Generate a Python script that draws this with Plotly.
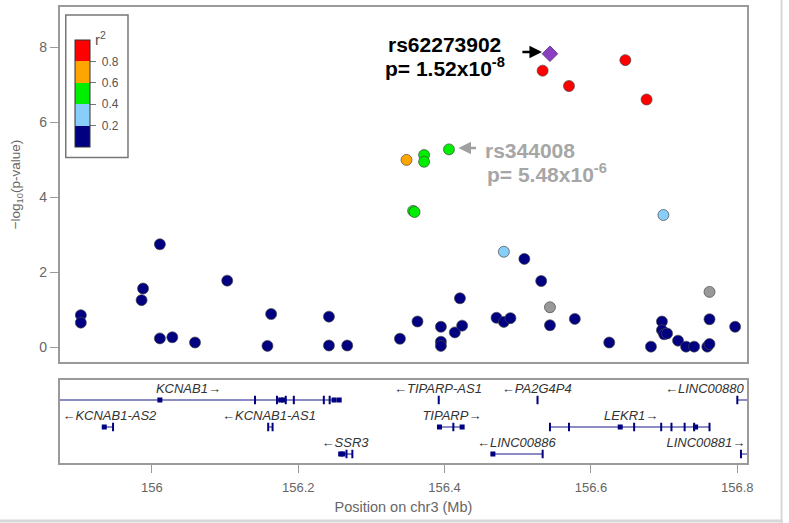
import plotly.graph_objects as go

# ---------------- association data (position Mb, -log10 p) ----------------
navy_x = [155.903, 155.903, 155.988, 155.986, 156.011, 156.011, 156.028, 156.059, 156.103,
          156.158, 156.163, 156.242, 156.242, 156.267, 156.339, 156.363, 156.395, 156.395,
          156.395, 156.414, 156.421, 156.424, 156.471, 156.481, 156.490, 156.509, 156.532,
          156.544, 156.578, 156.625, 156.682, 156.697, 156.697, 156.700, 156.704, 156.719,
          156.730, 156.741, 156.759, 156.762, 156.762, 156.797]
navy_y = [0.85, 0.65, 1.56, 1.25, 2.74, 0.23, 0.26, 0.12, 1.77,
          0.03, 0.88, 0.81, 0.04, 0.04, 0.22, 0.68, 0.54, 0.14,
          0.03, 0.39, 1.30, 0.57, 0.78, 0.67, 0.77, 2.35, 1.76,
          0.58, 0.75, 0.12, 0.01, 0.68, 0.45, 0.34, 0.36, 0.17,
          0.01, 0.01, 0.01, 0.08, 0.74, 0.54]
lblue_x = [156.481, 156.699]
lblue_y = [2.54, 3.52]
green_x = [156.357, 156.359, 156.372, 156.372, 156.406]
green_y = [3.63, 3.60, 5.12, 4.94, 5.27]
orange_x = [156.348]
orange_y = [4.99]
red_x = [156.534, 156.570, 156.647, 156.676]
red_y = [7.37, 6.96, 7.65, 6.60]
grey_x = [156.544, 156.762]
grey_y = [1.06, 1.47]
lead_x = [156.544]
lead_y = [7.82]

# ---------------- gene track ----------------
gene_names = ["KCNAB1", "TIPARP-AS1", "PA2G4P4", "LINC00880",
              "KCNAB1-AS2", "KCNAB1-AS1", "TIPARP", "LEKR1",
              "SSR3", "LINC00886", "LINC00881"]
gene_labels = ["KCNAB1\u2192", "\u2190TIPARP-AS1", "\u2190PA2G4P4", "\u2190LINC00880",
               "\u2190KCNAB1-AS2", "\u2190KCNAB1-AS1", "TIPARP\u2192", "LEKR1\u2192",
               "\u2190SSR3", "\u2190LINC00886", "LINC00881\u2192"]
gene_start = [155.838, 156.391, 156.526, 156.800, 155.935, 156.159, 156.393, 156.544,
              156.258, 156.466, 156.805]
gene_end = [156.256, 156.393, 156.528, 156.830, 155.947, 156.165, 156.424, 156.762,
            156.274, 156.534, 156.830]
gene_row = [1, 1, 1, 1, 2, 2, 2, 2, 3, 3, 3]
label_x = [156.050, 156.391, 156.526, 156.755, 155.942, 156.160, 156.410, 156.655,
           156.264, 156.498, 156.757]

exon_thick_x = [156.011, 156.176, 156.180, 156.249, 156.256, 155.935, 156.393, 156.424,
                156.640, 156.743, 156.258, 156.261, 156.466]
exon_thick_row = [1, 1, 1, 1, 1, 2, 2, 2, 2, 2, 3, 3, 3]
exon_thin_x = [156.141, 156.171, 156.183, 156.194, 156.235, 156.243, 156.392, 156.527, 156.800,
               155.947, 156.159, 156.165, 156.412, 156.544, 156.570, 156.659, 156.696,
               156.710, 156.728, 156.741, 156.762, 156.266, 156.274, 156.534, 156.805]
exon_thin_row = [1, 1, 1, 1, 1, 1, 1, 1, 1,
                 2, 2, 2, 2, 2, 2, 2, 2,
                 2, 2, 2, 2, 3, 3, 3, 3]

x_ticks = [156, 156.2, 156.4, 156.6, 156.8]
x_ticktext = ["156", "156.2", "156.4", "156.6", "156.8"]
y_ticks = [0, 2, 4, 6, 8]
r2_ticks = [0.2, 0.4, 0.6, 0.8]

# ---------------- styling ----------------
NAVY = "#000080"
LBLUE = "#87CEFA"
GREEN = "#00EE00"
ORANGE = "#FFA500"
RED = "#FF0000"
GREY = "#999999"
PURPLE = "#8A3FC0"
GENE = "#1a1a8c"
FONT = "Liberation Sans, Arial, sans-serif"
AX = "#9a9a9a"
TXT = "#555555"

W, H = 789, 523
xrange_ = [155.8739, 156.8136]

fig = go.Figure()

def pts(x, y, color, name):
    fig.add_trace(go.Scatter(x=x, y=y, mode="markers", name=name, showlegend=False,
                             marker=dict(size=11, color=color,
                                         line=dict(width=0.8, color="rgba(70,70,70,0.85)")),
                             xaxis="x", yaxis="y", hoverinfo="x+y"))

pts(navy_x, navy_y, NAVY, "r2<0.2")
pts(grey_x, grey_y, GREY, "NA")
pts(lblue_x, lblue_y, LBLUE, "0.2-0.4")
pts(orange_x, orange_y, ORANGE, "0.6-0.8")
pts(green_x, green_y, GREEN, "0.4-0.6")
pts(red_x, red_y, RED, "0.8-1")
fig.add_trace(go.Scatter(x=lead_x, y=lead_y, mode="markers", showlegend=False,
                         marker=dict(symbol="diamond", size=12, color=PURPLE,
                                     line=dict(width=0.8, color="#5a2a80")),
                         xaxis="x", yaxis="y"))

# colour scale legend (r^2)
cs = [[0, NAVY], [0.2, NAVY], [0.2, LBLUE], [0.4, LBLUE], [0.4, GREEN], [0.6, GREEN],
      [0.6, ORANGE], [0.8, ORANGE], [0.8, RED], [1, RED]]
fig.add_trace(go.Scatter(x=[None], y=[None], mode="markers", showlegend=False,
                         xaxis="x", yaxis="y",
                         marker=dict(color=[0.5], colorscale=cs, cmin=0, cmax=1, showscale=True,
                                     colorbar=dict(
                                         x=68 / W, xanchor="left", xref="paper",
                                         y=1 - 85 / H, yanchor="middle", yref="paper",
                                         lenmode="pixels", len=140, thickness=15,
                                         xpad=8, ypad=8,
                                         tickvals=r2_ticks,
                                         ticktext=["&nbsp;" + str(v) for v in r2_ticks],
                                         ticks="outside", ticklen=6, tickcolor="#777",
                                         tickfont=dict(size=12, color=TXT, family=FONT),
                                         title=dict(text="&nbsp;", side="top",
                                                    font=dict(size=11, color=TXT, family=FONT)),
                                         outlinecolor="#333", outlinewidth=1,
                                         bordercolor="#777", borderwidth=1.5,
                                         bgcolor="white"))))

# gene lines
for s, e, r in zip(gene_start, gene_end, gene_row):
    fig.add_trace(go.Scatter(x=[s, e], y=[r, r], mode="lines", showlegend=False,
                             line=dict(color=GENE, width=1.2), xaxis="x2", yaxis="y2",
                             hoverinfo="skip"))
fig.add_trace(go.Scatter(x=exon_thick_x, y=exon_thick_row, mode="markers", showlegend=False,
                         marker=dict(symbol="square", size=5, color=NAVY, line=dict(width=0)),
                         xaxis="x2", yaxis="y2", hoverinfo="skip"))
fig.add_trace(go.Scatter(x=exon_thin_x, y=exon_thin_row, mode="markers", showlegend=False,
                         marker=dict(symbol="line-ns", size=6, line=dict(width=2, color=NAVY)),
                         xaxis="x2", yaxis="y2", hoverinfo="skip"))
fig.add_trace(go.Scatter(x=label_x, y=[r - 0.37 for r in gene_row], mode="text",
                         text=gene_labels, showlegend=False,
                         textfont=dict(size=13, color="#333333", family=FONT, style="italic"),
                         xaxis="x2", yaxis="y2", hoverinfo="skip"))

# annotations
ann = [
    dict(x=156.400, y=8.06, text="<b>rs62273902</b>", font=dict(size=21, color="black")),
    dict(x=156.400, y=7.47, text="<b>p= 1.52x10<sup>-8</sup></b>", font=dict(size=21, color="black")),
    dict(x=156.453, y=5.25, text="<b>rs344008</b>", xanchor="left",
         font=dict(size=21, color="#a6a6a6")),
    dict(x=156.455, y=4.64, text="<b>p= 5.48x10<sup>-6</sup></b>", xanchor="left",
         font=dict(size=21, color="#a6a6a6")),
]
annotations = []
for a in ann:
    d = dict(xref="x", yref="y", showarrow=False, font=dict(family=FONT, **a.pop("font")))
    d.update(a)
    annotations.append(d)
annotations.append(dict(xref="x", yref="y", x=156.533, y=7.87, ax=-21, ay=0, text="",
                        showarrow=True, arrowhead=2, arrowsize=1, arrowwidth=2.5,
                        arrowcolor="black"))
annotations.append(dict(xref="x", yref="y", x=156.419, y=5.31, ax=19, ay=0, text="",
                        showarrow=True, arrowhead=2, arrowsize=1, arrowwidth=2.5,
                        arrowcolor="#a0a0a0"))
# r^2 legend title
annotations.append(dict(xref="paper", yref="paper", x=94 / W, y=1 - 27 / H, showarrow=False,
                        text="r<sup>2</sup>", font=dict(size=15, color=TXT, family=FONT)))

fig.update_layout(
    width=W, height=H, margin=dict(l=0, r=0, t=0, b=0),
    paper_bgcolor="white", plot_bgcolor="white",
    font=dict(family=FONT, color=TXT),
    annotations=annotations,
    xaxis=dict(domain=[60 / W, 753 / W], range=xrange_, showgrid=False, zeroline=False,
               showticklabels=False, ticks="", showline=True, mirror=True,
               linecolor=AX, linewidth=1.5, anchor="y"),
    yaxis=dict(domain=[1 - 362 / H, 1 - 7 / H], range=[-0.4, 9.067], showgrid=False,
               zeroline=False, tickvals=y_ticks, ticks="outside", ticklen=8, tickcolor=AX,
               tickwidth=1.2, tickfont=dict(size=14, color="#666"),
               showline=True, mirror=True, linecolor=AX, linewidth=1.5,
               title=dict(text="\u2212log<sub>10</sub>(p-value)", standoff=15,
                          font=dict(size=13.5, color="#666")), anchor="x"),
    xaxis2=dict(domain=[60 / W, 753 / W], range=xrange_, showgrid=False, zeroline=False,
                tickvals=x_ticks, ticktext=x_ticktext, ticks="outside", ticklen=8,
                tickcolor=AX, tickwidth=1.2, tickfont=dict(size=13, color="#666"),
                ticklabelstandoff=4,
                showline=True, mirror=True, linecolor=AX, linewidth=1.5,
                title=dict(text="Position on chr3 (Mb)", standoff=8,
                           font=dict(size=14.5, color="#666")), anchor="y2"),
    yaxis2=dict(domain=[1 - 463 / H, 1 - 380 / H], range=[3.333, 0.259], showgrid=False,
                zeroline=False, showticklabels=False, ticks="", showline=True, mirror=True,
                linecolor=AX, linewidth=1.5, anchor="x2"),
    shapes=[
        dict(type="line", xref="paper", yref="paper", x0=787.5 / W, x1=787.5 / W, y0=0, y1=1,
             line=dict(color="#d8d8d8", width=2)),
        dict(type="line", xref="paper", yref="paper", x0=0, x1=1, y0=1 - 521 / H, y1=1 - 521 / H,
             line=dict(color="#d8d8d8", width=3)),
    ],
)

fig.write_html("out.html", config={"displayModeBar": False},
               post_script="document.body.style.margin='0';document.body.style.overflow='hidden';")
